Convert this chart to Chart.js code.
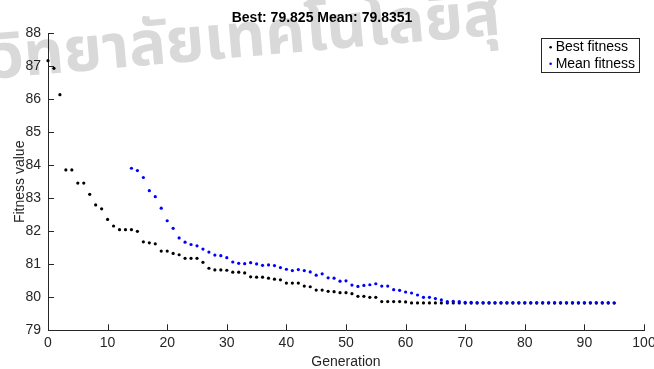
<!DOCTYPE html>
<html>
<head>
<meta charset="utf-8">
<script src="https://cdn.jsdelivr.net/npm/chart.js@4"></script>
<style>
  html, body { margin: 0; padding: 0; background: #fff; }
  #wrap { width: 654px; height: 369px; }
</style>
</head>
<body>
<div id="wrap"><canvas id="grafico" width="654" height="369"></canvas></div>
<script>
// ===== DATA =====
const geracoes = [];
for (let g = 0; g <= 95; g++) geracoes.push(g);

const melhor = [
  87.17, 86.94, 86.14, 83.86, 83.86, 83.46, 83.46, 83.12, 82.80, 82.68,
  82.36, 82.16, 82.05, 82.05, 82.05, 82.00, 81.68, 81.65, 81.62, 81.40,
  81.40, 81.33, 81.29, 81.18, 81.18, 81.18, 81.06, 80.88, 80.83, 80.83,
  80.82, 80.76, 80.76, 80.74, 80.62, 80.61, 80.61, 80.58, 80.55, 80.53,
  80.43, 80.43, 80.43, 80.34, 80.32, 80.22, 80.22, 80.18, 80.17, 80.14,
  80.14, 80.11, 80.03, 80.03, 80.00, 80.00, 79.87, 79.87, 79.87, 79.87,
  79.86, 79.83, 79.83, 79.83, 79.83, 79.83, 79.83, 79.83, 79.83, 79.83,
  79.825, 79.825, 79.825, 79.825, 79.825, 79.825, 79.825, 79.825, 79.825, 79.825,
  79.825, 79.825, 79.825, 79.825, 79.825, 79.825, 79.825, 79.825, 79.825, 79.825,
  79.825, 79.825, 79.825, 79.825, 79.825, 79.825
];

// mean is above the axis limit for the first generations
const media = [
  null, null, null, null, null, null, null, null, null, null,
  null, null, null, null, 83.91, 83.84, 83.63, 83.23, 83.05, 82.70,
  82.32, 82.09, 81.80, 81.67, 81.60, 81.56, 81.46, 81.37, 81.28, 81.26,
  81.20, 81.07, 81.03, 81.02, 81.05, 81.01, 80.97, 80.98, 80.96, 80.90,
  80.85, 80.81, 80.84, 80.81, 80.77, 80.67, 80.71, 80.59, 80.58, 80.49,
  80.50, 80.37, 80.33, 80.36, 80.38, 80.41, 80.34, 80.34, 80.23, 80.21,
  80.16, 80.13, 80.07, 80.00, 80.00, 79.96, 79.92, 79.87, 79.88, 79.87,
  79.85, 79.85, 79.84, 79.84, 79.84, 79.84, 79.84, 79.84, 79.84, 79.84,
  79.84, 79.84, 79.84, 79.84, 79.84, 79.84, 79.84, 79.84, 79.84, 79.84,
  79.84, 79.84, 79.84, 79.84, 79.84, 79.8351
];

const rotulos = ['Best fitness', 'Mean fitness'];
const titulo = 'Best: 79.825 Mean: 79.8351';
const marcaDagua = 'มหาวิทยาลัยเทคโนโลยีสุ';

const xTicks = [0, 10, 20, 30, 40, 50, 60, 70, 80, 90, 100];
const yTicks = [79, 80, 81, 82, 83, 84, 85, 86, 87, 88];

const COR_EIXO = '#262626';
const FONTE = 'Arial, "Liberation Sans", sans-serif';

function pontos(valores) {
  return geracoes.map((g, i) => ({ x: g, y: valores[i] }));
}

// ===== PLUGINS =====
const fundo = {
  id: 'fundo',
  beforeDraw(chart) {
    const ctx = chart.ctx;
    ctx.save();
    ctx.fillStyle = '#fff';
    ctx.fillRect(0, 0, chart.width, chart.height);
    // faded watermark across the top
    ctx.font = 'bold 62px "Noto Sans Thai", "Noto Sans", "DejaVu Sans", sans-serif';
    ctx.fillStyle = '#d9d9d9';
    ctx.translate(206, 60);
    ctx.rotate(-5 * Math.PI / 180);
    const pre = ctx.measureText('มหาวิทยาลัย').width;
    ctx.textBaseline = 'alphabetic';
    ctx.fillText(marcaDagua, -pre, 0);
    ctx.restore();
  }
};

// MATLAB style ticks pointing into the axes
const marcas = {
  id: 'marcas',
  afterDraw(chart) {
    const { ctx, chartArea, scales } = chart;
    ctx.save();
    ctx.strokeStyle = COR_EIXO;
    ctx.lineWidth = 1;
    ctx.beginPath();
    xTicks.forEach(v => {
      const px = Math.round(scales.x.getPixelForValue(v)) + 0.5;
      ctx.moveTo(px, chartArea.bottom);
      ctx.lineTo(px, chartArea.bottom - 6);
    });
    yTicks.forEach(v => {
      const py = Math.round(scales.y.getPixelForValue(v)) + 0.5;
      ctx.moveTo(chartArea.left, py);
      ctx.lineTo(chartArea.left + 6, py);
    });
    ctx.stroke();
    ctx.restore();
  }
};

// boxed legend in the top right corner
const legenda = {
  id: 'legenda',
  afterDraw(chart) {
    const { ctx, chartArea } = chart;
    const ds = chart.data.datasets;
    ctx.save();
    ctx.font = '14px ' + FONTE;
    const larg = Math.max(...ds.map(d => ctx.measureText(d.label).width));
    const w = 15 + larg + 4;
    const h = 34;
    const x = chartArea.right - 5 - w;
    const y = chartArea.top + 5;
    ctx.fillStyle = '#fff';
    ctx.fillRect(x, y, w, h);
    ctx.strokeStyle = COR_EIXO;
    ctx.lineWidth = 1;
    ctx.strokeRect(Math.round(x) + 0.5, Math.round(y) + 0.5, Math.round(w), h);
    ctx.textBaseline = 'middle';
    ds.forEach((d, i) => {
      const ly = y + 9 + i * 16.5;
      ctx.fillStyle = d.backgroundColor;
      ctx.beginPath();
      ctx.arc(x + 10, ly, 1.3, 0, Math.PI * 2);
      ctx.fill();
      ctx.fillStyle = '#000';
      ctx.fillText(d.label, x + 15, ly);
    });
    ctx.restore();
  }
};

// ===== CHART =====
new Chart(document.getElementById('grafico'), {
  type: 'scatter',
  data: {
    datasets: [
      {
        label: rotulos[0],
        data: pontos(melhor),
        backgroundColor: '#000000',
        borderColor: '#000000',
        pointRadius: 1.6,
        pointBorderWidth: 0,
        order: 1,
        clip: 5
      },
      {
        label: rotulos[1],
        data: pontos(media),
        backgroundColor: '#0000ff',
        borderColor: '#0000ff',
        pointRadius: 1.6,
        pointBorderWidth: 0,
        order: 0,
        clip: 5
      }
    ]
  },
  options: {
    responsive: false,
    animation: false,
    events: [],
    layout: { padding: { left: 0, right: 10, top: 0, bottom: 0 } },
    plugins: {
      legend: { display: false },
      tooltip: { enabled: false },
      title: {
        display: true,
        text: titulo,
        color: '#000',
        font: { family: FONTE, size: 14, weight: 'bold' },
        padding: { top: 9.5, bottom: 7 }
      }
    },
    scales: {
      x: {
        type: 'linear',
        min: 0,
        max: 100,
        afterBuildTicks: s => { s.ticks = xTicks.map(v => ({ value: v })); },
        afterFit: s => { s.height = 38.7; s.paddingLeft = 0; s.paddingRight = 0; },
        grid: { color: 'rgba(0,0,0,0)', drawTicks: false },
        border: { display: true, color: COR_EIXO, width: 1 },
        ticks: { color: COR_EIXO, padding: 4, maxRotation: 0, font: { family: FONTE, size: 14 } },
        title: {
          display: true,
          text: 'Generation',
          color: COR_EIXO,
          font: { family: FONTE, size: 14 },
          padding: { top: 0, bottom: -2 }
        }
      },
      y: {
        min: 79,
        max: 88,
        afterBuildTicks: s => { s.ticks = yTicks.map(v => ({ value: v })); },
        afterFit: s => { s.width = 48; },
        grid: { color: 'rgba(0,0,0,0)', drawTicks: false },
        border: { display: true, color: COR_EIXO, width: 1 },
        ticks: { color: COR_EIXO, padding: 7, font: { family: FONTE, size: 14 } },
        title: {
          display: true,
          text: 'Fitness value',
          color: COR_EIXO,
          font: { family: FONTE, size: 14 },
          padding: { top: 12, bottom: 0 }
        }
      }
    }
  },
  plugins: [fundo, marcas, legenda]
});
</script>
</body>
</html>
